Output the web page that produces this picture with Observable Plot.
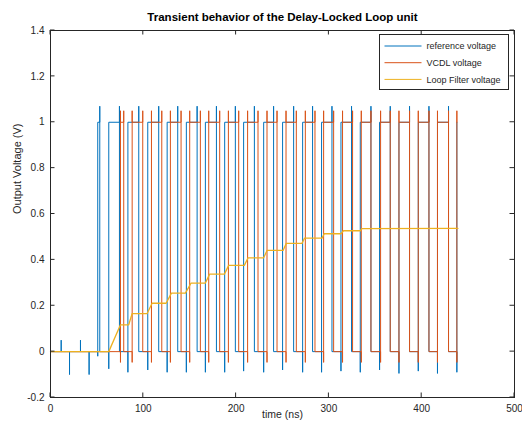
<!DOCTYPE html>
<html><head><meta charset="utf-8">
<script src="https://cdn.jsdelivr.net/npm/d3@7"></script>
<script src="https://cdn.jsdelivr.net/npm/@observablehq/plot@0.6"></script>
<style>
body{margin:0;overflow:hidden;background:#fff}
#chart{position:relative;width:522px;height:423px;overflow:hidden}
</style>
</head><body><div id="chart"></div>
<script>
// ---- data (time in ns, voltage in V) ----
const preSpikeTime = [11.5, 20.5, 32.3, 41.6];
const preSpikeVolt = [0.05, -0.1, 0.05, -0.1];

const refRise = [50.9, 62.8, 83.4, 104.8, 125.7, 146.4, 166.9, 187.7, 208.1, 229.7, 250.1, 271.7, 292.1, 313.0, 333.8, 354.6, 375.5, 396.3, 417.0, 437.9];
const refFall = [53.1, 74.3, 95.1, 116.6, 137.1, 158.0, 178.8, 199.2, 219.7, 240.4, 262.0, 282.4, 303.3, 324.4, 345.3, 366.1, 386.9, 407.8, 428.9];
const refRiseDip = [-0.02, -0.075, -0.09, -0.08, -0.09, -0.09, -0.09, -0.09, -0.085, -0.09, -0.08, -0.09, -0.09, -0.085, -0.09, -0.08, -0.095, -0.085, -0.095, -0.09];
const refFallPeak = 1.07;

const vcdlRise = [75.4, 88.0, 108.8, 129.2, 150.0, 170.5, 191.7, 212.4, 233.3, 253.8, 274.6, 294.3, 314.7, 334.9, 355.7, 375.5, 396.3, 417.0, 437.9];
const vcdlFall = [78.9, 99.4, 119.9, 140.7, 161.5, 182.3, 202.8, 223.6, 244.1, 264.9, 285.0, 305.1, 325.5, 345.3, 366.1, 386.9, 407.8, 428.9];
const vcdlRiseDip = -0.047;
const vcdlPeak = 1.05;

const lfTime = [0, 62.8, 75.4, 84.3, 88.0, 104.1, 109.5, 124.6, 130.3, 145.4, 151.5, 166.9, 171.5, 187.4, 192.0, 208.9, 212.9, 229.7, 233.3, 250.6, 254.1, 271.0, 273.8, 292.6, 295.0, 313.0, 315.8, 333.8, 335.6, 439.0];
const lfVolt = [0, 0, 0.117, 0.117, 0.166, 0.166, 0.211, 0.211, 0.255, 0.255, 0.299, 0.299, 0.338, 0.338, 0.376, 0.376, 0.409, 0.409, 0.441, 0.441, 0.472, 0.472, 0.495, 0.495, 0.514, 0.514, 0.527, 0.527, 0.536, 0.537];

const xTicks = [0, 100, 200, 300, 400, 500];
const yTicks = [-0.2, 0, 0.2, 0.4, 0.6, 0.8, 1, 1.2, 1.4];

const seriesNames = ["reference voltage", "VCDL voltage", "Loop Filter voltage"];
const seriesColors = ["#0072BD", "#D95319", "#EDB120"];

// ---- build waveform tables from the edge lists ----
const refPts = [{t: 0, v: 0}];
preSpikeTime.forEach((t, i) => { refPts.push({t, v: 0}, {t, v: preSpikeVolt[i]}, {t, v: 0}); });
refRise.forEach((r, i) => {
  refPts.push({t: r, v: 0}, {t: r, v: refRiseDip[i]}, {t: r, v: 1});
  if (i < refFall.length) {
    const f = refFall[i];
    refPts.push({t: f, v: 1}, {t: f, v: refFallPeak}, {t: f, v: 0});
  }
});

const vcdlPts = [{t: 0, v: 0}];
vcdlRise.forEach((r, i) => {
  vcdlPts.push({t: r, v: 0}, {t: r, v: vcdlRiseDip}, {t: r, v: vcdlPeak}, {t: r, v: 1});
  if (i < vcdlFall.length) {
    const f = vcdlFall[i];
    vcdlPts.push({t: f, v: 1}, {t: f, v: vcdlPeak}, {t: f, v: 0});
  }
});

const lfPts = lfTime.map((t, i) => ({t, v: lfVolt[i]}));

const font = "'Liberation Sans', Arial, Helvetica, sans-serif";
const ink = "#262626";

const chart = Plot.plot({
  width: 522,
  height: 423,
  marginLeft: 50,
  marginRight: 8,
  marginTop: 30,
  marginBottom: 26,
  style: {fontFamily: font, fontSize: "10px", color: ink, background: "#fff", overflow: "hidden"},
  x: {domain: [0, 500], ticks: xTicks, tickSize: 0, tickPadding: 7, label: null, tickFormat: d => String(d)},
  y: {domain: [-0.2, 1.4], ticks: yTicks, tickSize: 0, tickPadding: 6, label: null, tickFormat: d => String(+d.toFixed(1))},
  marks: [
    Plot.line(refPts, {x: "t", y: "v", stroke: seriesColors[0], strokeWidth: 1}),
    Plot.line(vcdlPts, {x: "t", y: "v", stroke: seriesColors[1], strokeWidth: 1}),
    Plot.line(lfPts, {x: "t", y: "v", stroke: seriesColors[2], strokeWidth: 1.3}),
    Plot.frame({stroke: ink, strokeWidth: 1}),
    Plot.text(["Transient behavior of the Delay-Locked Loop unit"], {frameAnchor: "top", dy: -18, fontWeight: "bold", fontSize: 11.5, fill: "#000"}),
    Plot.text(["time (ns)"], {frameAnchor: "bottom", dy: 20, fontSize: 10.5, fill: ink}),
    Plot.text(["Output Voltage (V)"], {frameAnchor: "left", dx: -33, rotate: -90, fontSize: 11, fill: ink})
  ]
});

document.getElementById("chart").appendChild(chart);

// ---- inward ticks on all four sides, using the plot's scales ----
const sx = chart.scale("x"), sy = chart.scale("y");
const svg = d3.select(chart);
const x0 = sx.apply(0), x1 = sx.apply(500), y0 = sy.apply(-0.2), y1 = sy.apply(1.4);
const tk = 4.5;
const g = svg.append("g").attr("stroke", ink).attr("stroke-width", 1);
xTicks.forEach(v => {
  const x = sx.apply(v);
  g.append("line").attr("x1", x).attr("x2", x).attr("y1", y0).attr("y2", y0 - tk);
  g.append("line").attr("x1", x).attr("x2", x).attr("y1", y1).attr("y2", y1 + tk);
});
yTicks.forEach(v => {
  const y = sy.apply(v);
  g.append("line").attr("x1", x0).attr("x2", x0 + tk).attr("y1", y).attr("y2", y);
  g.append("line").attr("x1", x1).attr("x2", x1 - tk).attr("y1", y).attr("y2", y);
});

// ---- legend ----
const lg = svg.append("g").attr("font-family", font).attr("font-size", "9px").attr("text-anchor", "start");
const lx = 379.5, ly = 34.5, lw = 129, lh = 55;
lg.append("rect").attr("x", lx).attr("y", ly).attr("width", lw).attr("height", lh)
  .attr("fill", "#fff").attr("stroke", ink).attr("stroke-width", 1);
seriesNames.forEach((name, i) => {
  const yy = ly + 11.5 + i * 16.7;
  lg.append("line").attr("x1", lx + 5).attr("x2", lx + 42).attr("y1", yy).attr("y2", yy)
    .attr("stroke", seriesColors[i]).attr("stroke-width", 1);
  lg.append("text").attr("x", lx + 47).attr("y", yy).attr("dy", "0.35em")
    .attr("text-anchor", "start").attr("fill", ink).text(name);
});
</script>
</body></html>
